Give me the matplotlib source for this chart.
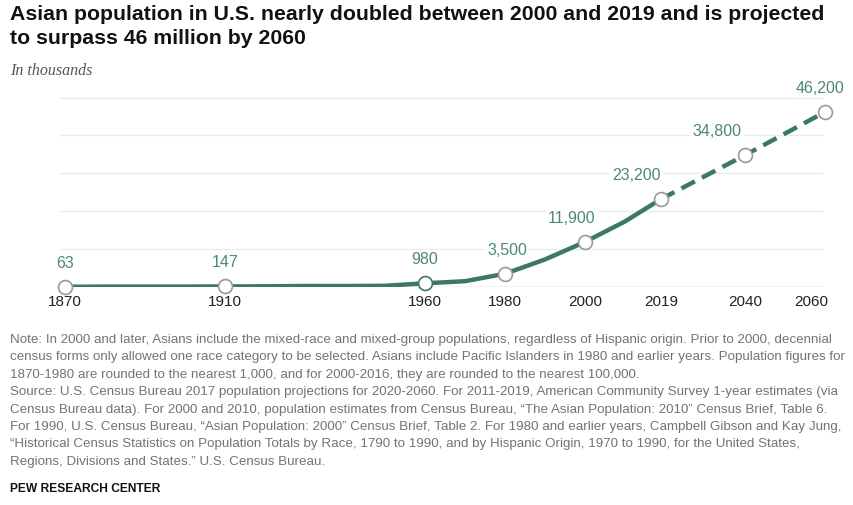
import matplotlib.pyplot as plt
from matplotlib import transforms

# census counts (thousands)
years = [1870, 1880, 1890, 1900, 1910, 1920, 1930, 1940, 1950, 1960, 1970, 1980, 1990, 2000, 2010, 2019]
pop = [63, 105, 125, 120, 147, 182, 264, 255, 321, 980, 1530, 3500, 7270, 11900, 17300, 23200]

# projections
proj_years = [2019, 2040, 2060]
proj_pop = [23200, 34800, 46200]

# labelled points
label_years = [1870, 1910, 1960, 1980, 2000, 2019, 2040, 2060]
label_vals = [63, 147, 980, 3500, 11900, 23200, 34800, 46200]
label_dx = [0, 0, 0, 2, -13, -24, -28, -5]  # px nudges

tick_years = [1870, 1910, 1960, 1980, 2000, 2019, 2040, 2060]
grid_vals = [10000, 20000, 30000, 40000, 50000]

title_lines = ['Asian population in U.S. nearly doubled between 2000 and 2019 and is projected',
               'to surpass 46 million by 2060']
notes = [
    'Note: In 2000 and later, Asians include the mixed-race and mixed-group populations, regardless of Hispanic origin. Prior to 2000, decennial',
    'census forms only allowed one race category to be selected. Asians include Pacific Islanders in 1980 and earlier years. Population figures for',
    '1870-1980 are rounded to the nearest 1,000, and for 2000-2016, they are rounded to the nearest 100,000.',
    'Source: U.S. Census Bureau 2017 population projections for 2020-2060. For 2011-2019, American Community Survey 1-year estimates (via',
    'Census Bureau data). For 2000 and 2010, population estimates from Census Bureau, \u201cThe Asian Population: 2010\u201d Census Brief, Table 6.',
    'For 1990, U.S. Census Bureau, \u201cAsian Population: 2000\u201d Census Brief, Table 2. For 1980 and earlier years, Campbell Gibson and Kay Jung,',
    '\u201cHistorical Census Statistics on Population Totals by Race, 1790 to 1990, and by Hispanic Origin, 1970 to 1990, for the United States,',
    'Regions, Divisions and States.\u201d U.S. Census Bureau.',
]

plt.rcParams['font.family'] = ['Liberation Sans', 'DejaVu Sans']

green = '#3c7a5e'
label_green = '#4b8a6f'

W, H = 854, 505
fig = plt.figure(figsize=(W / 100, H / 100), dpi=100)
ax = fig.add_axes([57 / W, (H - 287) / H, (830 - 57) / W, (287 - 90) / H])
ax.set_xlim(1868, 2061.25)
ax.set_ylim(0, 52000)

for g in grid_vals:
    ax.axhline(g, color='#ebebeb', lw=1, zorder=0, xmin=0.004, xmax=0.99)
ax.axhline(0, color='#bdbdbd', lw=1, zorder=1, xmax=0.99)

ax.plot(years, pop, color=green, lw=3.2, solid_capstyle='butt', zorder=3)
dashed, = ax.plot(proj_years, proj_pop, color=green, lw=3.2, zorder=3)
dashed.set_dashes([3.4, 1.8])

for yr, v, dx in zip(label_years, label_vals, label_dx):
    edge = green if yr == 1960 else '#9a9a9a'
    ax.plot(yr, v, 'o', ms=10, mfc='white', mec=edge, mew=1.2, zorder=5, clip_on=False)
    ax.annotate(f'{v:,}', (yr, v), xytext=(dx * 0.72, 17), textcoords='offset points',
                ha='center', va='center', fontsize=11.5, color=label_green, zorder=4,
                bbox=dict(boxstyle='square,pad=0.15', fc='white', ec='none'))

ax.set_xticks(tick_years)
ax.set_xticklabels([str(t) for t in tick_years], fontsize=11, color='#222222')
ax.tick_params(axis='x', length=0, pad=6)
# last label is right-aligned near the edge, like the original
last = ax.get_xticklabels()[-1]
last.set_horizontalalignment('right')
last.set_transform(last.get_transform() + transforms.ScaledTranslation(3 / 100, 0, fig.dpi_scale_trans))
ax.set_yticks([])
for s in ax.spines.values():
    s.set_visible(False)

renderer = fig.canvas.get_renderer()


def fit_text(y_px, s, width_px, **kw):
    # shrink/grow the font so the line spans the same width as in the original
    t = fig.text(10 / W, 1 - y_px / H, s, va='center', **kw)
    w = t.get_window_extent(renderer).width
    t.set_fontsize(t.get_fontsize() * width_px / w)
    return t


t1 = fit_text(14, title_lines[0], 813, fontsize=14, fontweight='bold', color='#111111')
fig.text(10 / W, 1 - 38 / H, title_lines[1], va='center', fontweight='bold', color='#111111',
         fontsize=t1.get_fontsize())
fig.text(10 / W, 1 - 71 / H, 'In thousands', fontsize=11.5, style='italic', va='center',
         color='#555555', family=['Liberation Serif', 'DejaVu Serif'])

first = fit_text(340, notes[0], 829, fontsize=9, color='#737373')
note_size = first.get_fontsize()
for i, line in enumerate(notes[1:], start=1):
    fig.text(10 / W, 1 - (340 + i * 17.4) / H, line, fontsize=note_size, va='center', color='#737373')

fit_text(489, 'PEW RESEARCH CENTER', 150, fontsize=10, fontweight='bold', color='#111111')

fig.savefig('out.png', dpi=100)
